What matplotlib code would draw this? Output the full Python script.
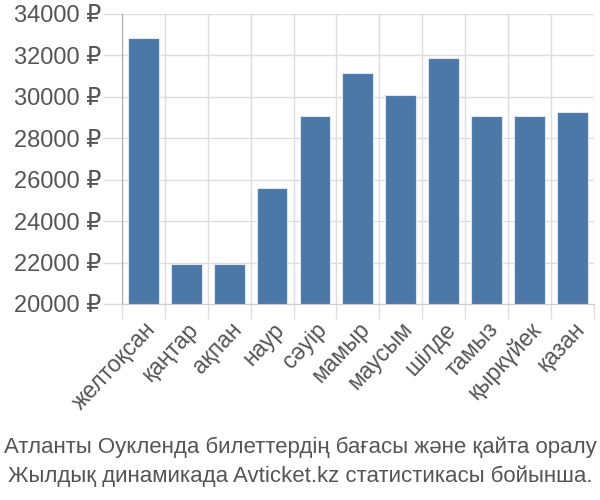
import matplotlib
matplotlib.use("Agg")
import matplotlib.pyplot as plt
import numpy as np

# months and average prices
months = ["желтоқсан", "қаңтар", "ақпан", "наур", "сәуір", "мамыр",
          "маусым", "шілде", "тамыз", "қыркүйек", "қазан"]
prices = [32860, 21910, 21910, 25600, 29090, 31130, 30100, 31860, 29090, 29090, 29280]
y_ticks = [20000, 22000, 24000, 26000, 28000, 30000, 32000, 34000]
caption = ["Атланты Оукленда билеттердің бағасы және қайта оралу",
           "Жылдық динамикада Avticket.kz статистикасы бойынша."]

plt.rcParams['font.family'] = ['Liberation Sans', 'DejaVu Sans']

fig = plt.figure(figsize=(6, 5), dpi=100)
ax = fig.add_axes([0.203, 0.392, 0.787, 0.58])

x = np.arange(len(months))
ax.bar(x, [p - y_ticks[0] for p in prices], bottom=y_ticks[0], width=0.72,
       color="#4c78a8", edgecolor="#dce6f2", linewidth=0.8, zorder=3)

ax.set_xlim(-0.5, len(months) - 0.5)
ax.set_ylim(y_ticks[0], y_ticks[-1])

# gridlines on category boundaries
ax.set_xticks(np.arange(len(months) + 1) - 0.5, minor=True)
ax.set_xticks(x)
ax.set_xticklabels(months, rotation=47, ha="right", rotation_mode="anchor")
ax.set_yticks(y_ticks)
ax.set_yticklabels([f"{v} ₽" for v in y_ticks])

ax.grid(True, which="minor", axis="x", color="#dddddd", linewidth=1, zorder=0)
ax.grid(True, which="major", axis="y", color="#dddddd", linewidth=1, zorder=0)
ax.tick_params(axis="x", which="major", length=0, pad=10, labelsize=16.5, labelcolor="#555555")
ax.tick_params(axis="x", which="minor", length=11, color="#dddddd", width=1)
ax.tick_params(axis="y", length=14, color="#dddddd", width=1, pad=1, labelsize=17, labelcolor="#555555")

for s in ["top", "right"]:
    ax.spines[s].set_visible(False)
ax.spines["left"].set_color("#aaaaaa")
ax.spines["bottom"].set_color("#cccccc")

fig.text(0.5, 0.105, caption[0], ha="center", va="center", fontsize=16, color="#555555")
fig.text(0.5, 0.048, caption[1], ha="center", va="center", fontsize=16, color="#555555")

fig.savefig("out.png", dpi=100)
